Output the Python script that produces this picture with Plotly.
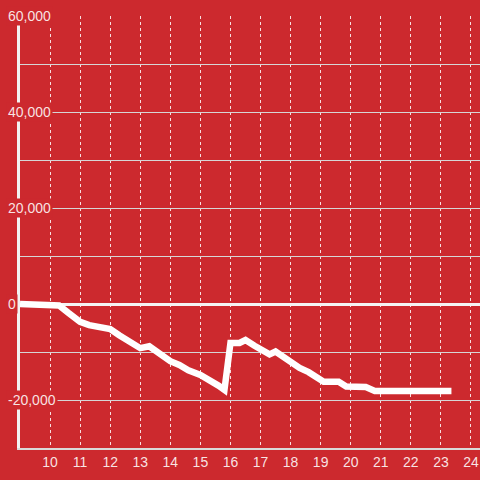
import plotly.graph_objects as go

# hours (x) and running balance (y)
hours = [9.0, 10.0, 10.3, 10.6, 11.0, 11.3, 11.6, 12.0, 12.3, 12.6, 13.0, 13.3, 13.6,
         14.0, 14.3, 14.6, 15.0, 15.3, 15.6, 15.8, 16.0, 16.3, 16.5, 16.8, 17.0, 17.3,
         17.5, 17.8, 18.0, 18.3, 18.6, 19.0, 19.1, 19.6, 19.85, 20.5, 20.8, 23.35]
balance = [0, -150, -300, -1800, -3700, -4400, -4700, -5200, -6500, -7700, -9200, -8800,
           -10300, -11900, -12700, -13800, -14800, -15800, -17000, -17900, -8100, -8100,
           -7500, -8700, -9500, -10500, -9900, -11200, -12300, -13300, -14200, -15500,
           -16200, -16200, -17200, -17300, -18100, -18100]

y_tick_vals = [-20000, 0, 20000, 40000, 60000]
y_tick_text = ["-20,000", "0", "20,000", "40,000", "60,000"]
x_tick_vals = list(range(10, 25))

bg = "#cc292e"
label_color = "rgba(255,255,255,0.88)"

fig = go.Figure()
fig.add_trace(go.Scatter(x=hours, y=balance, mode="lines",
                         line=dict(color="white", width=6.5), hoverinfo="skip"))

# y tick labels drawn over the axis line with a red box behind them
for v, t in zip(y_tick_vals, y_tick_text):
    fig.add_annotation(x=0.0, xref="paper", xshift=-14, y=v, yref="y", text=t,
                       showarrow=False, xanchor="left", yanchor="middle",
                       bgcolor=bg, borderpad=1,
                       font=dict(color=label_color, size=14, family="Liberation Sans"))

fig.update_layout(
    width=480, height=480,
    paper_bgcolor=bg, plot_bgcolor=bg,
    margin=dict(l=20, r=0, t=16, b=32),
    showlegend=False,
    font=dict(family="Liberation Sans", size=14, color=label_color),
    xaxis=dict(range=[9, 24.3], tickvals=x_tick_vals, showgrid=True, automargin=False,
               gridcolor="rgba(255,255,255,0.85)", griddash="dot", gridwidth=1,
               showline=True, linecolor="#d9d9d9", linewidth=2, zeroline=False,
               ticks="", tickfont=dict(size=14, color=label_color)),
    yaxis=dict(range=[-30000, 60000], dtick=10000, showticklabels=False, automargin=False,
               showgrid=True, gridcolor="#d6d6d6", gridwidth=1,
               showline=True, linecolor="#f2f2f2", linewidth=3,
               zeroline=True, zerolinecolor="#f4f4f4", zerolinewidth=3, ticks=""),
)

fig.write_html("out.html", config={"displayModeBar": False},
               post_script="document.body.style.margin='0';")
